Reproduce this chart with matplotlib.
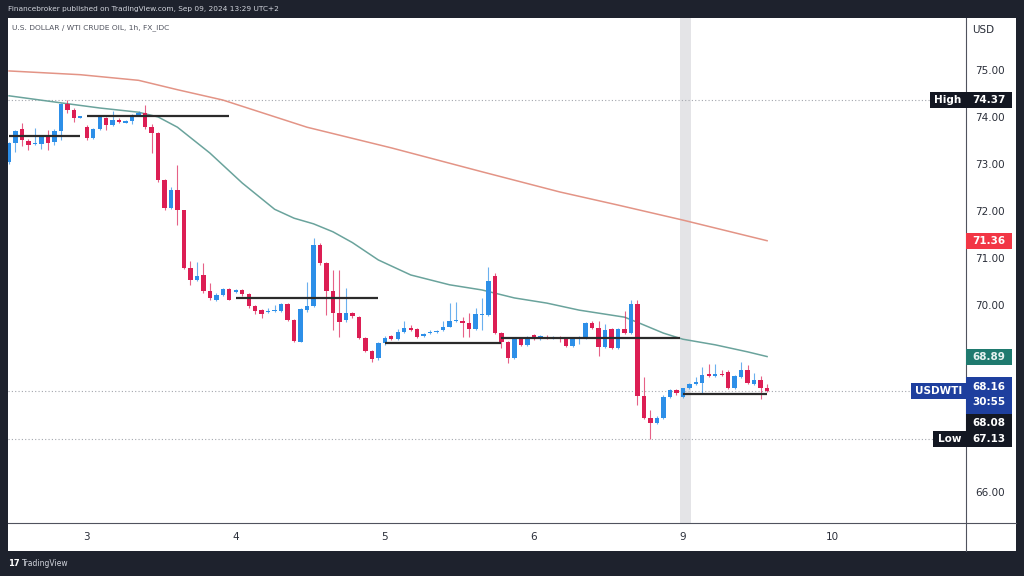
import matplotlib
matplotlib.use('Agg')
import matplotlib.pyplot as plt
from matplotlib.patches import Rectangle
from matplotlib.lines import Line2D
from matplotlib.transforms import IdentityTransform

W, H = 1024, 576

# ---------------- data (1h candles, USD/WTI) ----------------
opens = [73.04, 73.44, 73.74, 73.49, 73.42, 73.42, 73.58, 73.46, 73.69, 74.28,
         74.15, 73.98, 73.79, 73.54, 73.74, 73.97, 73.83, 73.93, 73.88, 73.92,
         74.04, 74.09, 73.78, 73.65, 72.65, 72.05, 72.44, 72.01, 70.77, 70.52,
         70.63, 70.29, 70.10, 70.20, 70.33, 70.27, 70.31, 70.22, 69.97, 69.88,
         69.84, 69.86, 69.87, 70.01, 69.67, 69.21, 69.88, 69.97, 71.27, 70.88,
         70.29, 69.81, 69.66, 69.81, 69.73, 69.28, 69.00, 68.85, 69.17, 69.33,
         69.26, 69.42, 69.50, 69.47, 69.32, 69.39, 69.41, 69.45, 69.53, 69.64,
         69.65, 69.60, 69.48, 69.78, 69.78, 70.60, 69.40, 69.21, 68.85, 69.26,
         69.14, 69.35, 69.26, 69.31, 69.28, 69.31, 69.26, 69.12, 69.27, 69.28,
         69.61, 69.50, 69.10, 69.47, 69.07, 69.47, 69.39, 70.01, 68.05, 67.57,
         67.48, 67.57, 68.03, 68.18, 68.03, 68.21, 68.31, 68.33, 68.51, 68.47,
         68.52, 68.57, 68.21, 68.45, 68.61, 68.31, 68.38, 68.21]
highs = [73.47, 73.72, 73.87, 73.52, 73.76, 73.62, 73.72, 73.75, 74.30, 74.37,
         74.18, 74.02, 73.82, 73.76, 74.00, 74.00, 74.13, 73.98, 73.93, 74.06,
         74.13, 74.25, 73.85, 73.68, 72.68, 72.50, 72.97, 72.02, 70.93, 70.91,
         70.88, 70.45, 70.25, 70.36, 70.35, 70.33, 70.33, 70.24, 69.99, 69.90,
         69.92, 69.98, 70.03, 70.03, 69.69, 69.92, 70.49, 71.41, 71.32, 70.90,
         70.74, 70.74, 70.35, 69.84, 69.76, 69.31, 69.02, 69.19, 69.32, 69.36,
         69.48, 69.65, 69.56, 69.49, 69.40, 69.45, 69.46, 69.65, 70.03, 70.05,
         69.74, 69.81, 69.92, 70.14, 70.81, 70.68, 69.42, 69.23, 69.28, 69.28,
         69.32, 69.38, 69.34, 69.36, 69.33, 69.33, 69.28, 69.28, 69.32, 69.63,
         69.65, 69.65, 69.58, 69.50, 69.49, 69.87, 70.10, 70.10, 68.45, 67.75,
         67.62, 68.06, 68.20, 68.20, 68.23, 68.32, 68.45, 68.66, 68.73, 68.73,
         68.60, 68.60, 68.49, 68.78, 68.70, 68.55, 68.48, 68.30]
lows = [73.00, 73.25, 73.37, 73.29, 73.40, 73.32, 73.30, 73.40, 73.50, 74.08,
        73.90, 73.97, 73.50, 73.52, 73.72, 73.72, 73.80, 73.88, 73.87, 73.85,
        74.02, 73.74, 73.22, 72.62, 72.02, 72.03, 71.70, 70.75, 70.42, 70.50,
        70.25, 70.10, 70.08, 70.18, 70.09, 70.25, 70.18, 69.93, 69.80, 69.71,
        69.82, 69.85, 69.85, 69.65, 69.20, 69.19, 69.85, 69.95, 70.84, 69.78,
        69.46, 69.31, 69.62, 69.72, 69.26, 68.98, 68.78, 68.82, 69.14, 69.24,
        69.24, 69.40, 69.44, 69.28, 69.30, 69.37, 69.39, 69.43, 69.51, 69.62,
        69.30, 69.30, 69.46, 69.45, 69.76, 69.38, 69.07, 68.75, 68.83, 69.12,
        69.12, 69.24, 69.24, 69.26, 69.26, 69.20, 69.10, 69.10, 69.15, 69.26,
        69.47, 68.90, 69.08, 69.05, 69.05, 69.37, 69.37, 67.86, 67.55, 67.13,
        67.46, 67.55, 68.01, 68.08, 68.01, 68.19, 68.29, 68.12, 68.45, 68.45,
        68.47, 68.19, 68.19, 68.43, 68.31, 68.29, 67.98, 68.14]
closes = [73.44, 73.70, 73.51, 73.40, 73.43, 73.58, 73.44, 73.69, 74.28, 74.15,
          73.97, 74.01, 73.54, 73.74, 73.99, 73.83, 73.93, 73.90, 73.91, 74.04,
          74.09, 73.78, 73.65, 72.65, 72.05, 72.44, 72.01, 70.77, 70.52, 70.61,
          70.29, 70.13, 70.20, 70.33, 70.09, 70.30, 70.22, 69.97, 69.87, 69.80,
          69.86, 69.89, 70.01, 69.67, 69.23, 69.90, 69.97, 71.27, 70.88, 70.29,
          69.81, 69.63, 69.81, 69.75, 69.28, 69.00, 68.83, 69.17, 69.28, 69.26,
          69.42, 69.49, 69.46, 69.30, 69.38, 69.41, 69.43, 69.53, 69.65, 69.66,
          69.60, 69.48, 69.79, 69.80, 70.51, 69.40, 69.21, 68.85, 69.26, 69.14,
          69.30, 69.26, 69.32, 69.28, 69.31, 69.26, 69.12, 69.26, 69.28, 69.61,
          69.49, 69.10, 69.45, 69.07, 69.47, 69.39, 70.01, 68.05, 67.57, 67.48,
          67.58, 68.03, 68.18, 68.12, 68.21, 68.30, 68.35, 68.50, 68.47, 68.52,
          68.49, 68.21, 68.47, 68.60, 68.33, 68.38, 68.21, 68.16]

day_tick_idx = [12, 35, 58, 81, 104, 127]
day_tick_labels = ['3', '4', '5', '6', '9', '10']
price_ticks = [66, 70, 71, 72, 73, 74, 75]
price_tick_labels = ['66.00', '70.00', '71.00', '72.00', '73.00', '74.00', '75.00']

ma_fast_idx = [0, 8, 14, 20, 23, 26, 31, 36, 41, 44, 47, 50, 53, 57, 62, 68,
               73, 78, 83, 88, 95, 97, 101, 104, 109, 114, 117]
ma_fast_val = [74.45, 74.30, 74.19, 74.10, 74.00, 73.78, 73.23, 72.59, 72.03,
               71.84, 71.72, 71.55, 71.32, 70.95, 70.63, 70.42, 70.31, 70.14,
               70.03, 69.88, 69.73, 69.62, 69.39, 69.26, 69.14, 68.99, 68.89]
ma_slow_idx = [0, 11, 20, 26, 33, 46, 59, 73, 85, 94, 104, 117]
ma_slow_val = [74.98, 74.90, 74.78, 74.58, 74.36, 73.78, 73.34, 72.83, 72.40,
               72.12, 71.80, 71.36]

level_start = [0, 12, 35, 58, 76, 104]
level_end = [11, 34, 57, 76, 103.5, 117]
level_price = [73.59, 74.03, 70.13, 69.18, 69.28, 68.09]

session_band = [103.5, 105.3]

high_price = 74.37
low_price = 67.13
last_price = 68.16
fast_last = 68.89
slow_last = 71.36
line_last = 68.08
countdown = '30:55'

# ---------------- styling ----------------
FRAME = '#1e222d'
UP = '#2d8fe8'
DOWN = '#dc1e54'
FAST = '#6aa39c'
SLOW = '#e39486'

fig = plt.figure(figsize=(W / 100, H / 100), dpi=100, facecolor=FRAME)
ID = IdentityTransform()


def px(x, y):
    return x, H - y


# white chart panel
fig.add_artist(Rectangle(px(8, 551), 1008, 533, transform=ID,
                         facecolor='white', edgecolor='none', zorder=-10))

ax = fig.add_axes([8 / W, (H - 523) / H, 958 / W, 505 / H])
ax.set_facecolor('none')
ax.set_xlim(-0.154, 147.7)
ax.set_ylim(65.341, 76.109)
for s in ax.spines.values():
    s.set_visible(False)

ax.axvspan(session_band[0], session_band[1], color='#e4e4e7', zorder=0, lw=0)

# dotted price lines
for p in (high_price, last_price, low_price):
    ax.axhline(p, color='#a3a6ad', lw=0.8, ls=(0, (1, 2)), zorder=1)

# moving averages
ax.plot(ma_slow_idx, ma_slow_val, color=SLOW, lw=1.1, zorder=2)
ax.plot(ma_fast_idx, ma_fast_val, color=FAST, lw=1.1, zorder=2)

# candles
for i, (o, h, l, c) in enumerate(zip(opens, highs, lows, closes)):
    col = UP if c >= o else DOWN
    ax.vlines(i, l, h, color=col, lw=0.8, alpha=0.7, zorder=3)
    body = max(abs(c - o), 0.025)
    ax.bar(i, body, bottom=min(o, c), width=0.68, color=col, lw=0, zorder=4)

# drawn horizontal levels
for a, b, p in zip(level_start, level_end, level_price):
    ax.plot([a, b], [p, p], color='#2b2b2b', lw=1.6, zorder=5,
            solid_capstyle='butt')

# axes ticks
ax.set_xticks(day_tick_idx)
ax.set_xticklabels(day_tick_labels)
ax.tick_params(axis='x', length=0, pad=6.5, labelsize=7.5, labelcolor='#2a2e39')
ax.yaxis.tick_right()
ax.set_yticks(price_ticks)
ax.set_yticklabels(price_tick_labels)
ax.tick_params(axis='y', length=0, pad=6.5, labelsize=7.5, labelcolor='#2a2e39')

# separators
fig.add_artist(Line2D([8, 1016], [H - 523, H - 523], transform=ID,
                      color='#50535e', lw=0.8))
fig.add_artist(Line2D([966, 966], [H - 18, H - 551], transform=ID,
                      color='#50535e', lw=0.8))

# header / footer text
fig.text(8, H - 9, 'Financebroker published on TradingView.com, Sep 09, 2024 13:29 UTC+2',
         transform=ID, color='#d1d4dc', fontsize=5.3, va='center', ha='left')
fig.text(12, H - 28, 'U.S. DOLLAR / WTI CRUDE OIL, 1h, FX_IDC',
         transform=ID, color='#50535e', fontsize=5.4, va='center', ha='left')
fig.text(972, H - 30, 'USD', transform=ID, color='#2a2e39', fontsize=7.5,
         va='center', ha='left')
fig.text(8, H - 563, '17', transform=ID, color='white', fontsize=6,
         fontweight='bold', va='center', ha='left')
fig.text(22, H - 563, 'TradingView', transform=ID, color='#d1d4dc', fontsize=5.5,
         va='center', ha='left')


def price_y(p):
    return ax.transData.transform((0, p))[1]


def badge(x0, x1, yc, h, color, text, tcolor='white'):
    fig.add_artist(Rectangle((x0, yc - h / 2), x1 - x0, h, transform=ID,
                             facecolor=color, edgecolor='none', zorder=5))
    if text:
        fig.text((x0 + x1) / 2, yc, text, transform=ID, color=tcolor,
                 fontsize=7.5, fontweight='bold', ha='center', va='center',
                 zorder=6)


yh = price_y(high_price)
badge(930, 966, yh, 16, '#131722', 'High')
badge(966, 1012, yh, 16, '#131722', f'{high_price:.2f}')
badge(966, 1012, price_y(slow_last), 16, '#f23645', f'{slow_last:.2f}')
badge(966, 1012, price_y(fast_last), 16, '#1f7a6f', f'{fast_last:.2f}', tcolor='#e6f2f0')
yl = price_y(last_price)
badge(911, 966, yl, 16, '#1e3f9e', 'USDWTI')
fig.add_artist(Rectangle((966, yl - 24), 46, 38, transform=ID,
                         facecolor='#1e3f9e', edgecolor='none', zorder=5))
fig.text(989, yl + 4, f'{last_price:.2f}', transform=ID, color='white',
         fontsize=7.5, fontweight='bold', ha='center', va='center', zorder=6)
fig.text(989, yl - 11, countdown, transform=ID, color='white',
         fontsize=7.5, fontweight='bold', ha='center', va='center', zorder=6)
badge(966, 1012, yl - 32, 17, '#131722', f'{line_last:.2f}')
ylow = price_y(low_price)
badge(933, 966, ylow, 16, '#131722', 'Low')
badge(966, 1012, ylow, 16, '#131722', f'{low_price:.2f}')

fig.savefig('out.png', dpi=100, facecolor=FRAME)
